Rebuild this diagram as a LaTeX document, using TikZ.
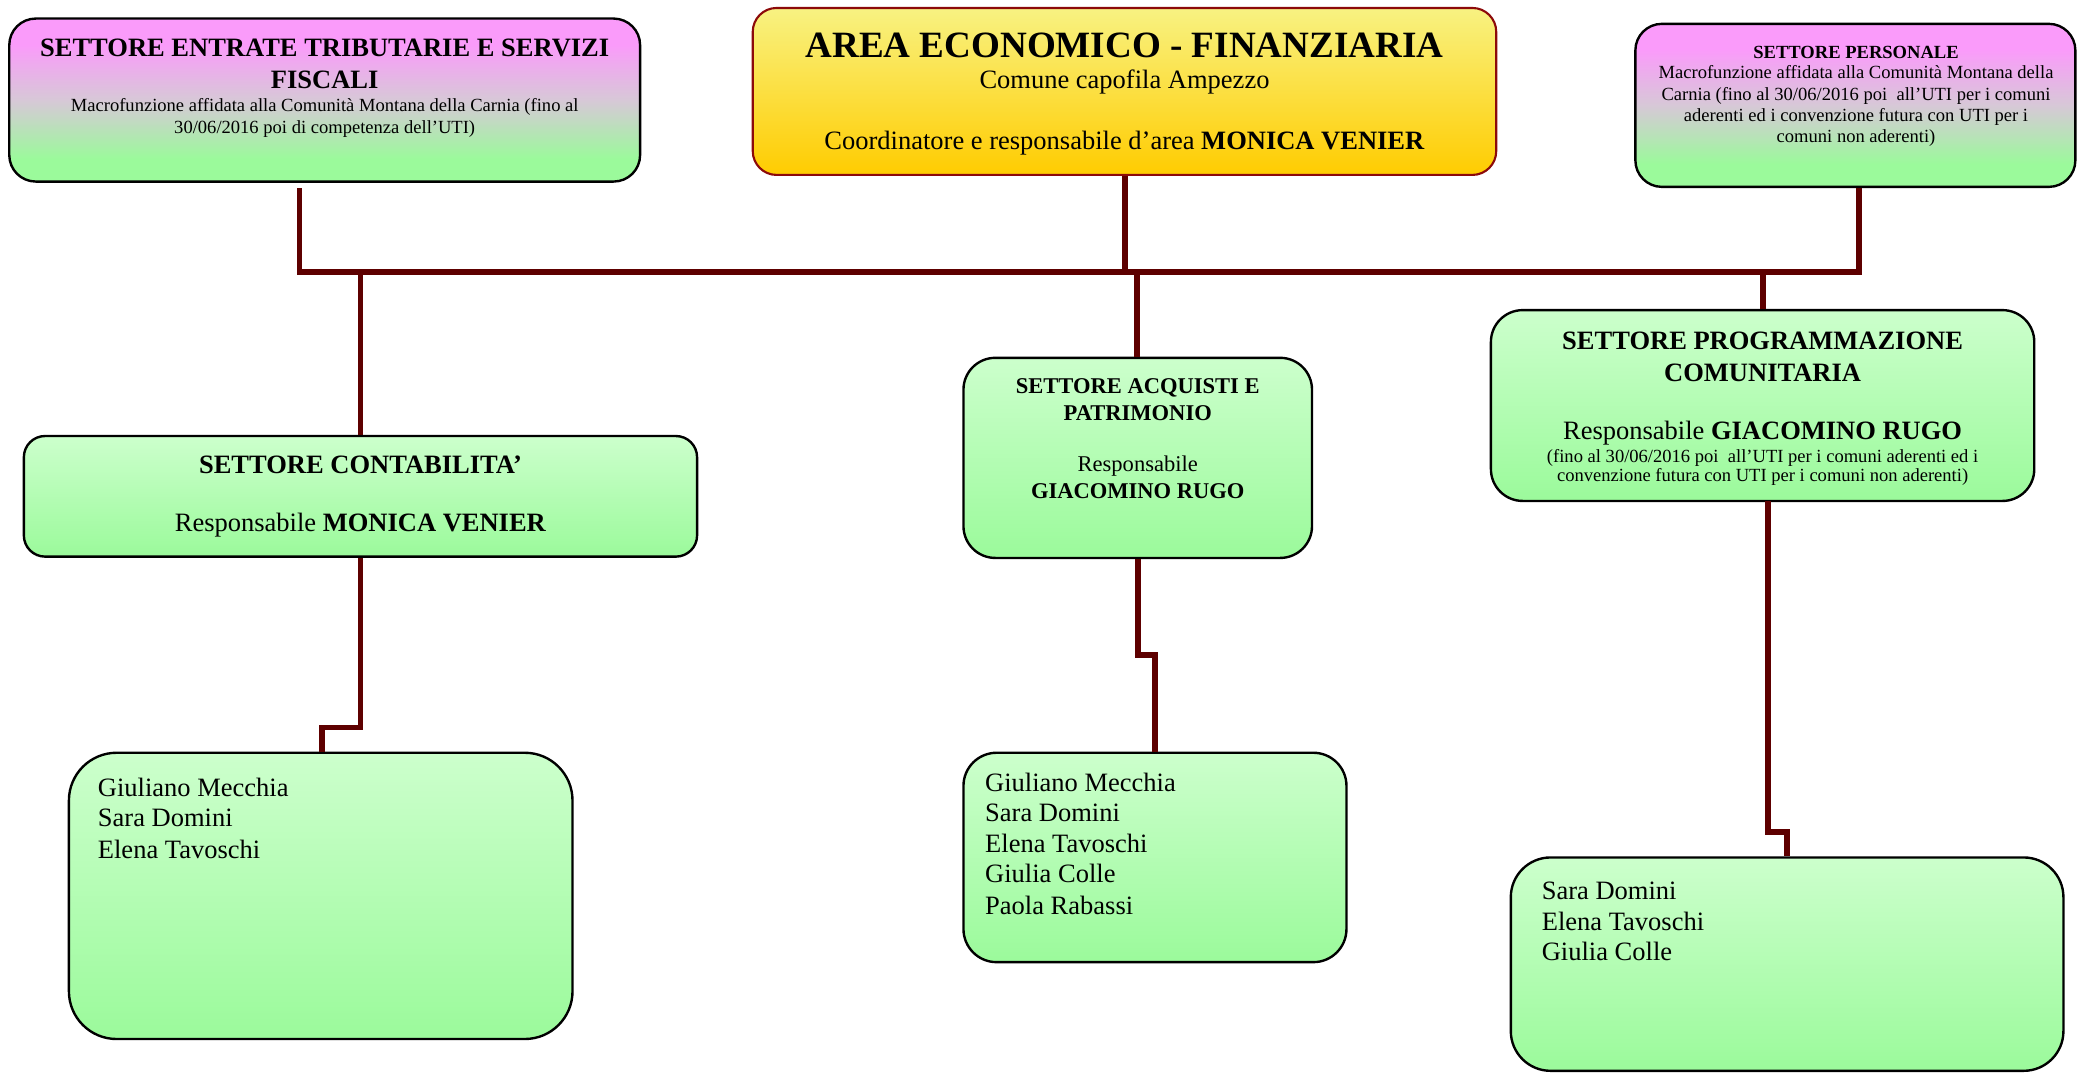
\documentclass[tikz,border=0pt]{standalone}
\usepackage{fontspec}
\setmainfont{Liberation Serif}
\definecolor{gtop}{RGB}{204,255,204}
\definecolor{gbot}{RGB}{155,250,155}
\definecolor{ptop}{RGB}{250,155,250}
\definecolor{pmid}{RGB}{215,200,215}
\definecolor{ytop}{RGB}{248,242,130}
\definecolor{ybot}{RGB}{255,204,0}
\definecolor{aborder}{RGB}{140,10,10}
\definecolor{connc}{RGB}{94,0,0}
\pgfdeclareverticalshading{pinkgreen}{100bp}{color(0bp)=(gbot); color(32bp)=(gbot); color(50bp)=(pmid); color(67bp)=(ptop); color(100bp)=(ptop)}
\begin{document}
\begin{tikzpicture}[x=0.5pt,y=-0.5pt,
  greenbox/.style={draw=black, line width=0.9pt, inner sep=0, top color=gtop, bottom color=gbot},
  pinkbox/.style={draw=black, line width=0.9pt, inner sep=0, shading=pinkgreen},
  areabox/.style={draw=aborder, line width=0.8pt, inner sep=0, top color=ytop, bottom color=ybot},
  conn/.style={draw=connc, line width=2.2pt, line join=miter},
  lbl/.style={inner sep=0, anchor=base, text=black},
  namelbl/.style={inner sep=0, anchor=base west, text=black, font=\fontsize{10}{12}\selectfont},
  tbig/.style={lbl, font=\fontsize{10}{12}\selectfont\bfseries},
  tnorm/.style={lbl, font=\fontsize{10}{12}\selectfont},
  tsmall/.style={lbl, font=\fontsize{7}{8}\selectfont},
  tsmallb/.style={lbl, font=\fontsize{7}{8}\selectfont\bfseries},
  tq/.style={lbl, font=\fontsize{8.5}{10}\selectfont},
  tqb/.style={lbl, font=\fontsize{8.5}{10}\selectfont\bfseries}
]
\useasboundingbox (0,0) rectangle (1568,808.9);

% boxes
\node[pinkbox, rounded corners=10pt, minimum width=238pt, minimum height=61.5pt] (E) at (245,75.5) {};
\node[areabox, rounded corners=9pt, minimum width=280.5pt, minimum height=63pt] (A) at (848.5,69) {};
\node[pinkbox, rounded corners=10pt, minimum width=166pt, minimum height=61.5pt] (P) at (1400,79.5) {};
\node[greenbox, rounded corners=12pt, minimum width=205pt, minimum height=72pt] (G) at (1330,306) {};
\node[greenbox, rounded corners=12pt, minimum width=131.5pt, minimum height=75.5pt] (Q) at (858.5,345.5) {};
\node[greenbox, rounded corners=8pt, minimum width=254pt, minimum height=45.5pt] (C) at (272,374.5) {};
\node[greenbox, rounded corners=18pt, minimum width=190pt, minimum height=108pt] (N1) at (242,676) {};
\node[greenbox, rounded corners=12.5pt, minimum width=144.5pt, minimum height=79pt] (N2) at (871.5,647) {};
\node[greenbox, rounded corners=15pt, minimum width=208.5pt, minimum height=80.5pt] (N3) at (1348.5,727.5) {};

% connectors
\coordinate (eOut) at (226,142);
\coordinate (busL) at (226,205);
\coordinate (busR) at (1403,205);
\coordinate (aDrop) at (849,205);
\coordinate (qTop) at (858,205);
\coordinate (gOut) at (1334,378);
\draw[conn] (eOut) |- (busR) -- (P.south -| busR);
\draw[conn] (A.south -| aDrop) -- (aDrop);
\draw[conn] (qTop) -- (Q.north -| qTop);
\draw[conn] (C.north |- busL) -- (C.north);
\draw[conn] (G.north |- busL) -- (G.north);
\draw[conn] (C.south) -- (C.south |- 0,549) -| (N1.north -| 243,0);
\draw[conn] (Q.south) -- (Q.south |- 0,494) -| (N2.north);
\draw[conn] (gOut) -- (gOut |- 0,628) -| (N3.north);

% texts E
\node[tbig] (e1) at (245,43) {SETTORE ENTRATE TRIBUTARIE E SERVIZI};
\node[tbig] (e2) at (245,66.5) {FISCALI};
\node[tsmall] (e3) at (245,84.5) {Macrofunzione affidata alla Comunità Montana della Carnia (fino al};
\node[tsmall] (e4) at (245,100.5) {30/06/2016 poi di competenza dell’UTI)};

% texts A
\node[lbl, font=\fontsize{14}{16}\selectfont\bfseries] (a1) at (848.5,43.5) {AREA ECONOMICO - FINANZIARIA};
\node[tnorm] (a2) at (848.5,67) {Comune capofila Ampezzo};
\node[tnorm] (a3) at (848.5,113) {Coordinatore e responsabile d’area \textbf{MONICA VENIER}};

% texts P
\node[tsmallb] (p1) at (1400.5,44) {SETTORE PERSONALE};
\node[tsmall] (p2) at (1400.5,59.5) {Macrofunzione affidata alla Comunità Montana della};
\node[tsmall] (p3) at (1400.5,75.5) {Carnia (fino al 30/06/2016 poi\ \ all’UTI per i comuni};
\node[tsmall] (p4) at (1400.5,91.5) {aderenti ed i convenzione futura con UTI per i};
\node[tsmall] (p5) at (1400.5,107.5) {comuni non aderenti)};

% texts G
\node[tbig] (g1) at (1330,264) {SETTORE PROGRAMMAZIONE};
\node[tbig] (g2) at (1330,288) {COMUNITARIA};
\node[tnorm] (g3) at (1330,332) {Responsabile \textbf{GIACOMINO RUGO}};
\node[tsmall] (g4) at (1330,349) {(fino al 30/06/2016 poi\ \ all’UTI per i comuni aderenti ed i};
\node[tsmall] (g5) at (1330,363.5) {convenzione futura con UTI per i comuni non aderenti)};

% texts Q
\node[tqb] (q1) at (858.5,297) {SETTORE ACQUISTI E};
\node[tqb] (q2) at (858.5,317) {PATRIMONIO};
\node[tq] (q3) at (858.5,356) {Responsabile};
\node[tqb] (q4) at (858.5,376.5) {GIACOMINO RUGO};

% texts C
\node[tbig] (c1) at (272,357) {SETTORE CONTABILITA’};
\node[tnorm] (c2) at (272,401) {Responsabile \textbf{MONICA VENIER}};

% names
\node[namelbl] (n11) at (73.5,601) {Giuliano Mecchia};
\node[namelbl] (n12) at (73.5,624) {Sara Domini};
\node[namelbl] (n13) at (73.5,647.5) {Elena Tavoschi};

\node[namelbl] (n21) at (743,597) {Giuliano Mecchia};
\node[namelbl] (n22) at (743,620) {Sara Domini};
\node[namelbl] (n23) at (743,643) {Elena Tavoschi};
\node[namelbl] (n24) at (743,666) {Giulia Colle};
\node[namelbl] (n25) at (743,690) {Paola Rabassi};

\node[namelbl] (n31) at (1163,679) {Sara Domini};
\node[namelbl] (n32) at (1163,702) {Elena Tavoschi};
\node[namelbl] (n33) at (1163,725) {Giulia Colle};
\end{tikzpicture}
\end{document}
